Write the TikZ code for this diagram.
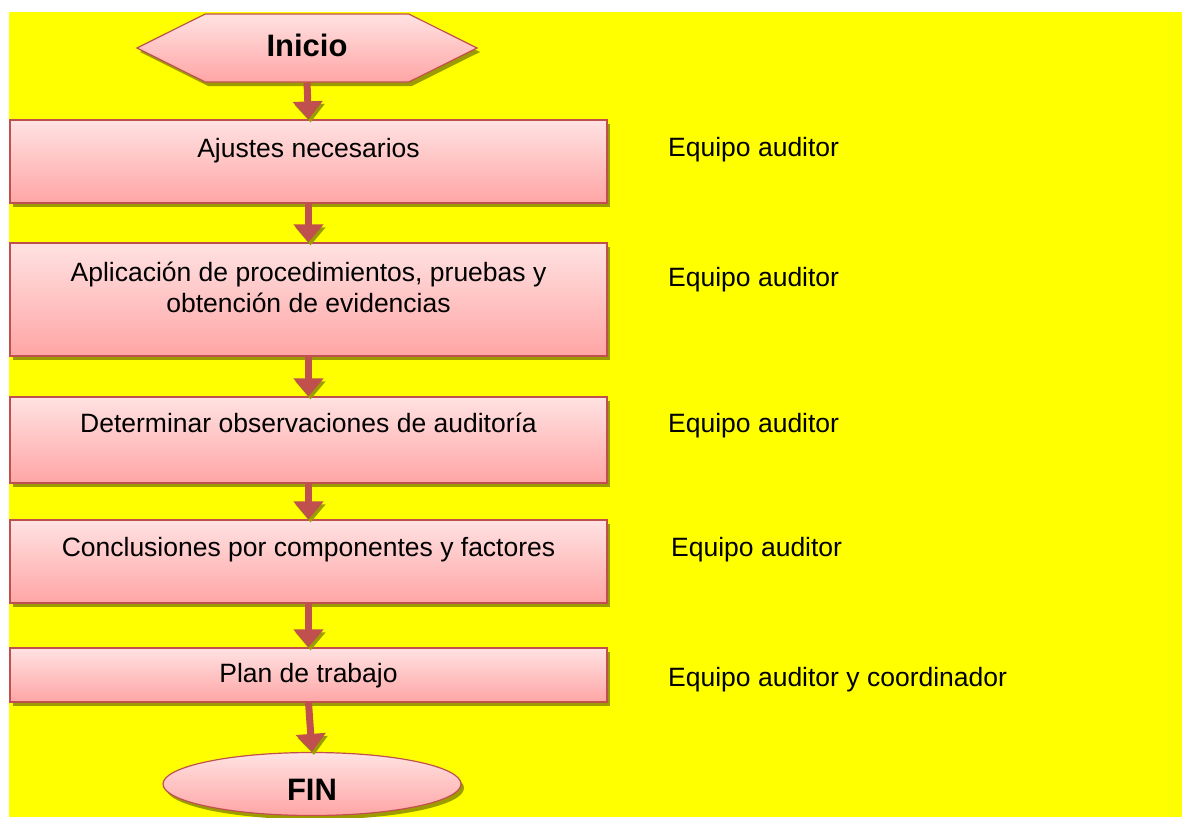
\documentclass[tikz,border=0pt]{standalone}
\usepackage{fontspec}
\setmainfont{Liberation Sans}
\usetikzlibrary{shapes.geometric,shapes.symbols,arrows.meta,shadows,positioning}
\definecolor{fondo}{HTML}{FFFF00}
\definecolor{borde}{HTML}{C0504D}
\definecolor{rosaclaro}{HTML}{FFE2E2}
\definecolor{rosa}{HTML}{FFA5A5}
\definecolor{olivo}{HTML}{9C9C00}
\tikzset{
  sombra/.style={drop shadow={shadow xshift=3pt,shadow yshift=-4pt,fill=olivo,opacity=1}},
  caja/.style={rectangle,draw=borde,line width=1.2pt,top color=rosaclaro,bottom color=rosa,
    minimum width=597pt,inner sep=0pt,sombra},
  hexa/.style={signal,signal to=west and east,signal pointer angle=53,draw=borde,line width=1.2pt,
    top color=rosaclaro,bottom color=rosa,minimum width=340pt,minimum height=68pt,inner sep=0pt,sombra},
  elipse/.style={ellipse,draw=borde,line width=1.2pt,top color=rosaclaro,bottom color=rosa,
    minimum width=298pt,minimum height=63pt,inner sep=0pt,sombra},
  texto/.style={font=\fontsize{26.5}{31}\selectfont,inner sep=0pt,anchor=base,align=center},
  titulo/.style={font=\fontsize{31}{36}\selectfont\bfseries,inner sep=0pt,anchor=base},
  resp/.style={font=\fontsize{26.5}{29}\selectfont,inner sep=0pt,anchor=base west},
  flecha/.style={draw=borde,line width=7pt,-{Triangle[width=29pt,length=18pt]},
    preaction={draw=olivo,transform canvas={xshift=2pt,yshift=-3pt}}}
}

\begin{document}
\begin{tikzpicture}[x=1pt,y=-1pt]
\fill[white] (0,0) rectangle (1182,817);
\fill[fondo] (9,12) rectangle (1182,817);
\useasboundingbox (0,0) rectangle (1182,817);

\node[hexa] (inicio) at (307,48) {};
\node[titulo] (inicio-t) at (307,56) {Inicio};

\node[caja,minimum height=83pt] (ajustes) at (308.5,161.5) {};
\node[texto] (ajustes-t) at (308.5,157) {Ajustes necesarios};
\node[caja,minimum height=113pt] (aplicacion) at (308.5,299.5) {};
\node[texto] (aplicacion-t) at (308.5,312) {Aplicación de procedimientos, pruebas y\\obtención de evidencias};
\node[caja,minimum height=86pt] (observaciones) at (308.5,440) {};
\node[texto] (observaciones-t) at (308.5,432) {Determinar observaciones de auditoría};
\node[caja,minimum height=83pt] (conclusiones) at (308.5,561.5) {};
\node[texto] (conclusiones-t) at (308.5,556) {Conclusiones por componentes y factores};
\node[caja,minimum height=54pt] (plan) at (308.5,675) {};
\node[texto] (plan-t) at (308.5,682) {Plan de trabajo};

\node[elipse] (fin) at (312,784) {};
\node[titulo] (fin-t) at (312,800) {FIN};

\node[resp] (resp-a) at (668,156) {Equipo auditor};
\node[resp] (resp-b) at (668,286) {Equipo auditor};
\node[resp] (resp-c) at (668,432) {Equipo auditor};
\node[resp] (resp-d) at (671,556) {Equipo auditor};
\node[resp] (resp-e) at (668,686) {Equipo auditor y coordinador};

\draw[flecha] (inicio.south) -- (ajustes.north);
\draw[flecha] (ajustes.south) -- (aplicacion.north);
\draw[flecha] (aplicacion.south) -- (observaciones.north);
\draw[flecha] (observaciones.south) -- (conclusiones.north);
\draw[flecha] (conclusiones.south) -- (plan.north);
\draw[flecha] (plan.south) -- (fin.north);
\end{tikzpicture}
\end{document}
